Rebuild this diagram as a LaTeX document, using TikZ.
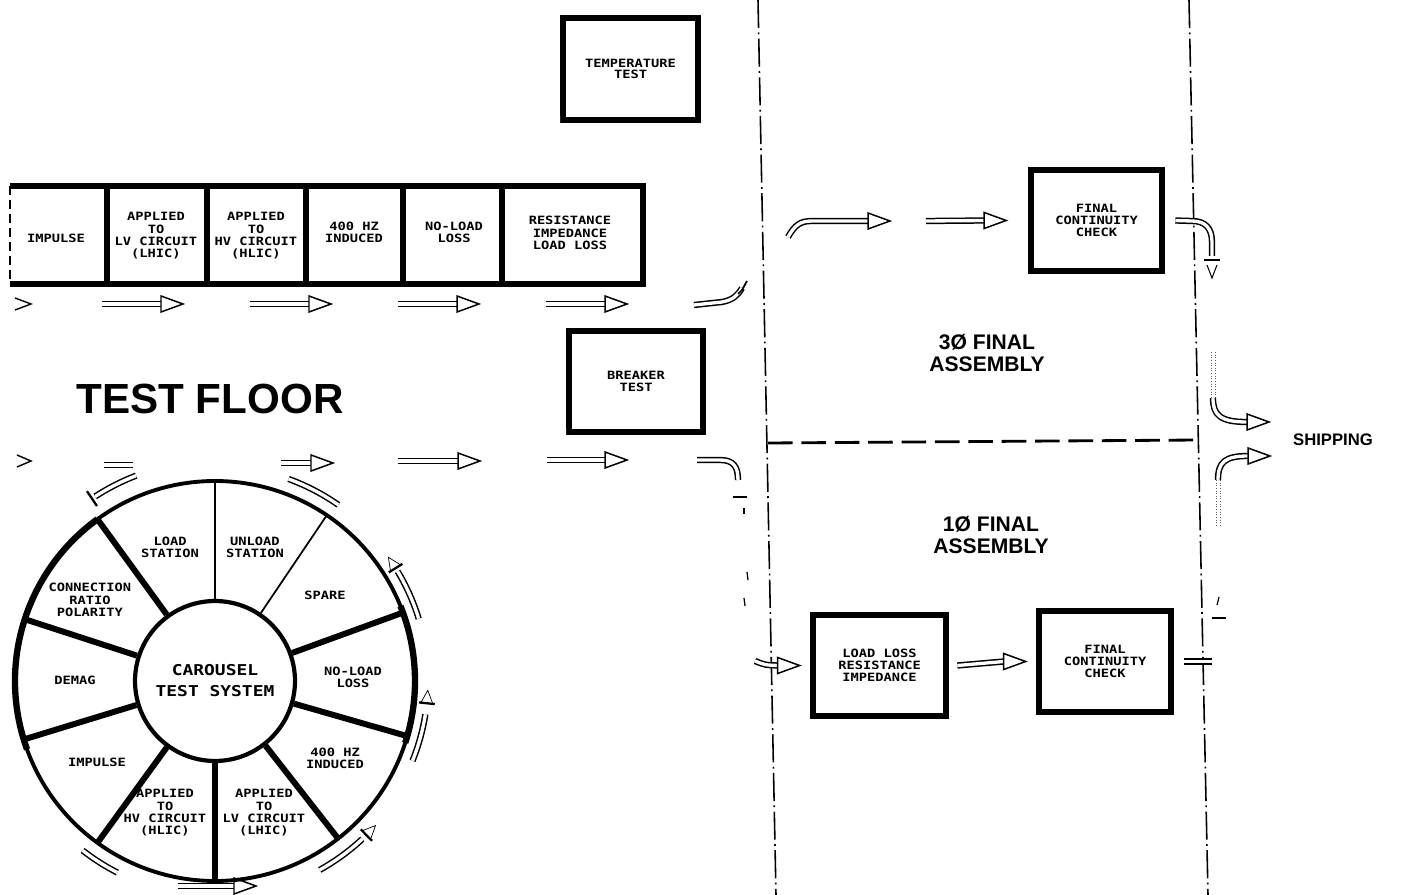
\documentclass[tikz,border=0pt]{standalone}
\usepackage{fontspec}
\setmainfont{Liberation Sans}
\newfontfamily\plot[FakeStretch=1.2]{DejaVu Sans Mono}
\newfontfamily\hv{Liberation Sans}
\newcommand\harr[4]{\draw[shaft] (#2,#4) coordinate (#1s) -- ({#3-22},#4) coordinate (#1e); \pic at (#3,#4) {ahead};}
\tikzset{
  shaft/.style={draw=black, line width=0.85pt, double=white, double distance=1.9pt},
  ahead/.pic={\draw[line width=0.85pt, fill=white, line join=miter] (0,0) -- (-22,8) -- (-22,-8) -- cycle;},
  tbox/.style={draw, line width=3.8pt, rectangle, inner sep=0pt, align=center, font=\plot\bfseries\fontsize{6.5}{7}\selectfont},
  small/.style={align=center, font=\plot\bfseries\fontsize{6.5}{7}\selectfont, inner sep=0pt},
  ddash/.style={line width=0.9pt, dash pattern=on 16pt off 2.5pt on 1pt off 2.5pt},
  big/.style={font=\hv\bfseries\fontsize{24}{28}\selectfont, inner sep=0pt},
  asm/.style={align=center, inner sep=0pt, font=\hv\bfseries\fontsize{12}{12.5}\selectfont},
  thickdiv/.style={line width=3.4pt},
  thindiv/.style={line width=1pt},
  bar/.style={line width=1.3pt},
  chev/.style={line width=0.8pt},
  faint/.style={densely dotted, line width=0.5pt, black!60}
}
\begin{document}
\begin{tikzpicture}[x=0.02cm, y=-0.02cm]
\fill[white] (0,0) rectangle (1411,895);
\useasboundingbox (0,0) rectangle (1411,895);

% ---- zone boundaries
\draw[ddash] (758,0) coordinate (zl1) -- (776,895) coordinate (zl2);
\draw[ddash] (1189,0) coordinate (zr1) -- (1208,895) coordinate (zr2);
\draw[line width=1.6pt, dash pattern=on 14pt off 5pt] (768,443) coordinate (zh1) -- (1199,440) coordinate (zh2);

% ---- top row of test stations
\draw[line width=3.8pt, line join=miter] (10,186) -- (643,186) -- (643,284) -- (10,284);
\draw[line width=0.8pt, dash pattern=on 5pt off 3pt] (10,186) -- (10,284);
\foreach \x in {107,207,306,403,502} \draw[line width=3pt] (\x,186) -- (\x,284);
\node[small] (imp) at (56,238) {IMPULSE};
\node[small] (alv) at (156,236) {APPLIED\\TO\\LV CIRCUIT\\(LHIC)};
\node[small] (ahv) at (256,236) {APPLIED\\TO\\HV CIRCUIT\\(HLIC)};
\node[small] (hz) at (354,232) {400 HZ\\INDUCED};
\node[small] (nll) at (454,232) {NO-LOAD\\LOSS};
\node[small] (ril) at (570,233) {RESISTANCE\\IMPEDANCE\\LOAD LOSS};

% ---- boxes
\node[tbox, minimum width=2.7cm, minimum height=2.04cm, font=\plot\bfseries\fontsize{6.5}{5.8}\selectfont] (temp) at (630.5,69) {TEMPERATURE\\TEST};
\node[tbox, minimum width=2.68cm, minimum height=2.02cm] (brk) at (636,381.5) {BREAKER\\TEST};
\node[tbox, minimum width=2.62cm, minimum height=2.02cm] (fc1) at (1096.5,220.5) {FINAL\\CONTINUITY\\CHECK};
\node[tbox, minimum width=2.66cm, minimum height=2.02cm] (ll) at (879.5,665.5) {LOAD LOSS\\RESISTANCE\\IMPEDANCE};
\node[tbox, minimum width=2.64cm, minimum height=2.02cm] (fc2) at (1105,661.5) {FINAL\\CONTINUITY\\CHECK};
% thinner left sides of the two test boxes
\draw[white, line width=2.2pt] ([xshift=-0.03cm]temp.north west) ++(-1.5,8) -- ([xshift=-0.03cm]temp.south west) ++(-1.5,-8);
\draw[white, line width=2.2pt] ([xshift=-0.03cm]brk.north west) ++(-1.5,8) -- ([xshift=-0.03cm]brk.south west) ++(-1.5,-8);

% ---- titles
\node[big] (tf) at (210,399) {TEST FLOOR};
\node[asm] (a3) at (987,353) {3Ø FINAL\\ASSEMBLY};
\node[asm] (a1) at (991,535) {1Ø FINAL\\ASSEMBLY};
\node[inner sep=0pt, font=\hv\bfseries\fontsize{9.5}{10}\selectfont] (ship) at (1333,440) {SHIPPING};

% ---- row 1 flow
\draw[chev] (15,298) -- (31,304) -- (15,310);
\harr{ra}{102}{183}{304}
\harr{rb}{250}{331}{304}
\harr{rc}{398}{479}{304}
\harr{rd}{546}{627}{304}
\draw[shaft] (694,305) coordinate (re1) -- (722,302) .. controls (733,300) and (738,295) .. (742,288) coordinate (re2);
\draw[line width=1pt] (738,294) -- (742,290) -- (747,281);

% ---- 3 phase flow
\draw[shaft] (788,237) coordinate (t1) .. controls (795,225) and (800,221) .. (812,221) -- (868,221) coordinate (t2);
\pic at (890,221) {ahead};
\draw[shaft] (926,221) coordinate (t3) -- ([xshift=-0.87cm]fc1.west) coordinate (t4);
\pic at ([xshift=-0.43cm]fc1.west) {ahead};
\draw[shaft] ([xshift=0.2cm]fc1.east) coordinate (t5) -- (1192,221) .. controls (1205,221) and (1212,228) .. (1212,242) -- (1212,256) coordinate (t6);
\draw[bar] (1204,260) -- (1220,260);
\draw[line width=0.6pt] (1207,265) -- (1212,278) -- (1217,265);

% ---- row 2 flow
\draw[chev] (17,455) -- (31,461) -- (17,467);
\draw[shaft] (104,465) coordinate (u0) -- (133,465) coordinate (u1);
\harr{sa}{281}{333}{463}
\harr{sb}{398}{480}{461}
\harr{sc}{547}{627}{460}
\draw[shaft] (697,460) coordinate (u2) -- (720,460) .. controls (733,460) and (738,466) .. (738,480) coordinate (u3);
\draw[bar] (733,497) -- (747,497);
\draw[line width=1pt] (744,508) -- (744,514);
\draw[line width=0.7pt] (747,572) -- (748,580);
\draw[line width=0.7pt] (744,598) -- (745,606);

% ---- single phase flow
\draw[shaft] (755,661) coordinate (v1) .. controls (765,665) .. ([xshift=-0.64cm]ll.west) coordinate (v2);
\pic at ([xshift=-0.2cm]ll.west) {ahead};
\draw[shaft] ([xshift=0.16cm]ll.east) coordinate (m1) -- ([xshift=-0.64cm]fc2.west) coordinate (m2);
\pic at ([xshift=-0.2cm]fc2.west) {ahead};
\draw[shaft] ([xshift=0.2cm]fc2.east) coordinate (w1) -- ++(28,0) coordinate (w2);
\draw[bar] (1212,618) -- (1226,618);
\draw[line width=0.7pt] (1217,605) -- (1219,597);

% ---- to shipping
\draw[faint] (1211,352) -- (1211,398) (1215,352) -- (1215,398);
\draw[shaft] (1213,398) coordinate (s1) .. controls (1213,415) and (1220,422) .. (1247,422) coordinate (s2);
\pic at (1269,422) {ahead};
\draw[faint] (1216,480) -- (1216,526) (1220,480) -- (1220,526);
\draw[shaft] (1218,480) coordinate (s3) .. controls (1218,462) and (1225,456) .. (1248,456) coordinate (s4);
\pic at (1270,456) {ahead};

% ---- bottom arrow under carousel
\draw[shaft] (178,886) coordinate (b1) -- (234,886) coordinate (b2);
\pic at (256,886) {ahead};

% ---- carousel
\begin{scope}[shift={(215,681)}, x=0.02cm, y=0.02cm]
 \draw[line width=2.2pt] (0,0) circle[radius=200];
 \draw[line width=3.6pt] (126:200) arc[start angle=126, end angle=200, radius=200];
 \draw[line width=3.6pt] (22:200) arc[start angle=22, end angle=-18, radius=200];
 \node[circle, draw, line width=2.4pt, minimum size=3.2cm, inner sep=0pt, align=center, font=\plot\bfseries\fontsize{8.5}{12}\selectfont] (hub) at (0,0) {CAROUSEL\\TEST SYSTEM};
 \foreach \a in {20,-16,-52,-90,-126,-163,162,126} \draw[thickdiv] (hub.\a) -- (\a:200);
 \foreach \a in {90,56} \draw[thindiv] (hub.\a) -- (\a:200);
 \node[small] (k1) at (-45,134) {LOAD\\STATION};
 \node[small] (k2) at (40,134) {UNLOAD\\STATION};
 \node[small] (k3) at (110,86) {SPARE};
 \node[small] (k4) at (138,4) {NO-LOAD\\LOSS};
 \node[small] (k5) at (120,-77) {400 HZ\\INDUCED};
 \node[small] (k6) at (49,-132) {APPLIED\\TO\\LV CIRCUIT\\(LHIC)};
 \node[small] (k7) at (-50,-132) {APPLIED\\TO\\HV CIRCUIT\\(HLIC)};
 \node[small] (k8) at (-118,-81) {IMPULSE};
 \node[small] (k9) at (-140,1) {DEMAG};
 \node[small] (k10) at (-125,81) {CONNECTION\\RATIO\\POLARITY};
 % circulation arrows
 \draw[shaft] (111:220) arc[start angle=111, end angle=123, radius=220];
 \draw[bar] (124:211) -- (124:229);
 \draw[shaft] (70:215) arc[start angle=70, end angle=55, radius=215];
 \draw[shaft] (17:213) arc[start angle=17, end angle=31, radius=213];
 \draw[bar] (32:205) -- (32:221);
 \draw[line width=0.4pt] (32:207) -- (35.5:213) -- (32:219);
 \draw[shaft] (-22:213) arc[start angle=-22, end angle=-9, radius=213];
 \draw[bar] (-6:205) -- (-6:221);
 \draw[line width=0.4pt] (-6:207) -- (-2.5:213) -- (-6:219);
 \draw[shaft] (-61:216) arc[start angle=-61, end angle=-47, radius=216];
 \draw[bar] (-45.5:208) -- (-45.5:224);
 \draw[line width=0.4pt] (-45.5:210) -- (-42:216) -- (-45.5:222);
 \draw[shaft] (-128:215) arc[start angle=-128, end angle=-117, radius=215];
\end{scope}
\end{tikzpicture}
\end{document}
